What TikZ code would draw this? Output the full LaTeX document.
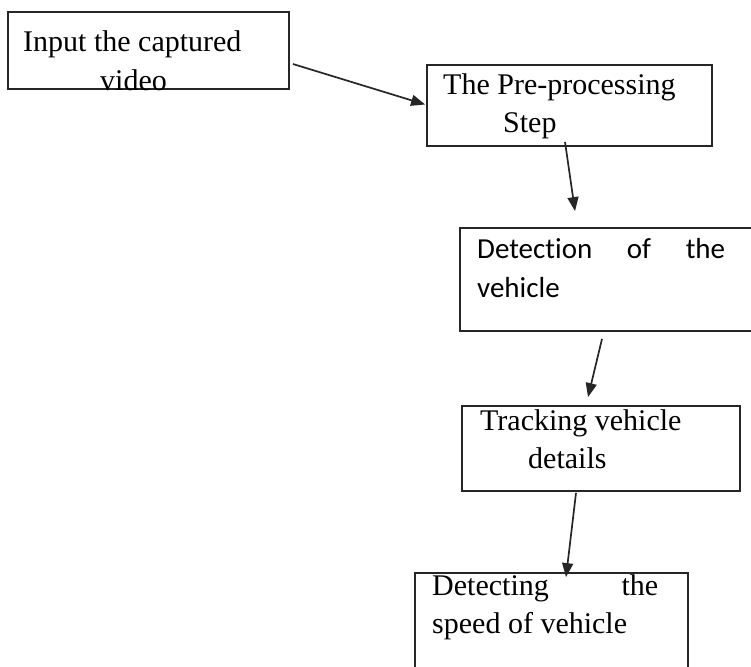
\documentclass[tikz,border=0pt]{standalone}
\usepackage{fontspec}
\setmainfont{Liberation Serif}
\newfontfamily\calib[Ligatures=NoCommon]{Carlito}
\usetikzlibrary{arrows.meta}
\definecolor{edge}{HTML}{262626}
\begin{document}
\begin{tikzpicture}[x=1pt,y=-1pt,
  box/.style={draw=edge,line width=1.8pt,rectangle,inner sep=0pt},
  lbl/.style={anchor=base west,inner sep=0pt,font=\fontsize{30}{36}\selectfont,text=black},
  slbl/.style={anchor=base west,inner sep=0pt,font=\calib\fontsize{29}{35}\selectfont,text=black},
  arr/.style={draw=edge,line width=1.7pt,-{Triangle[length=14pt,width=11pt]}}]
\useasboundingbox (0,0) rectangle (751,666);
\begin{scope}
\clip (0,0) rectangle (751,666);
\node[box,minimum width=281pt,minimum height=77pt] (b1) at (148.5,50.5) {};
\node[box,minimum width=285pt,minimum height=81pt] (b2) at (569.5,105.5) {};
\node[box,minimum width=305pt,minimum height=103pt] (b3) at (612.5,279.5) {};
\node[box,minimum width=278pt,minimum height=85pt] (b4) at (601,448.5) {};
\node[box,minimum width=273pt,minimum height=117pt] (b5) at (551.5,631.5) {};
\end{scope}

\node[lbl] (t1a) at (23,52) {Input the captured};
\node[lbl] (t1b) at (100,91) {video};
\node[lbl] (t2a) at (443,95) {The Pre-processing};
\node[lbl] (t2b) at (503,132) {Step};
\node[slbl] (t3a) at (477,258) {\hbox to 248pt{Detection\hfill of\hfill the}};
\node[slbl] (t3b) at (477,297) {vehicle};
\node[lbl] (t4a) at (480,430) {Tracking vehicle};
\node[lbl] (t4b) at (528,468) {details};
\node[lbl] (t5a) at (432,595) {\hbox to 226pt{Detecting\hfill the}};
\node[lbl] (t5b) at (432,633) {speed of vehicle};

\draw[arr] ([xshift=3pt,yshift=-13.5pt]b1.east) -- ([xshift=-1pt,yshift=1pt]b2.west);
\draw[arr] ([xshift=-4.5pt,yshift=5pt]b2.south) -- ([xshift=-37.5pt,yshift=16pt]b3.north);
\draw[arr] ([xshift=-10.5pt,yshift=-7pt]b3.south) -- ([xshift=-13pt,yshift=8pt]b4.north);
\draw[arr] ([xshift=-25pt,yshift=-1pt]b4.south) -- ([xshift=14.5pt,yshift=-5pt]b5.north);
\end{tikzpicture}
\end{document}
